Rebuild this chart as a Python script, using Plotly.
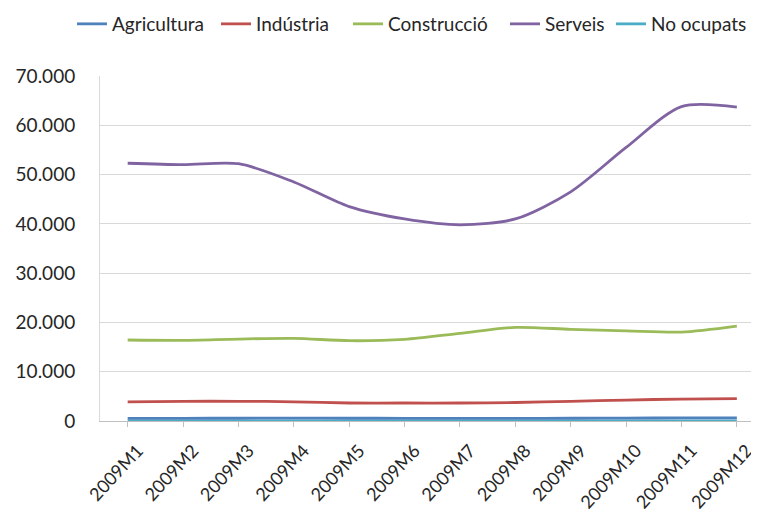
"""
Ocupació per sectors, 2009 (mensual).
"""
import plotly.graph_objects as go

MONTHS = ['2009M1', '2009M2', '2009M3', '2009M4', '2009M5', '2009M6',
          '2009M7', '2009M8', '2009M9', '2009M10', '2009M11', '2009M12']

AGRICULTURA = [550, 550, 560, 570, 560, 550, 550, 540, 560, 600, 620, 650]
INDUSTRIA = [3900, 4000, 4000, 3900, 3650, 3650, 3650, 3750, 4000, 4250, 4450, 4550]
CONSTRUCCIO = [16430, 16360, 16630, 16770, 16290, 16570, 17780, 19000, 18600, 18300, 18050, 19270]
SERVEIS = [52300, 52000, 52200, 48500, 43500, 41000, 39800, 41000, 46500, 55500, 63800, 63700]
NO_OCUPATS = [0, 0, 0, 0, 0, 0, 0, 0, 0, 0, 0, 0]

SERIES = [
    ('Agricultura', AGRICULTURA, '#4F81BD'),
    ('Indústria', INDUSTRIA, '#C0504D'),
    ('Construcció', CONSTRUCCIO, '#9BBB59'),
    ('Serveis', SERVEIS, '#8064A2'),
    ('No ocupats', NO_OCUPATS, '#4BACC6'),
]

FONT = 'Lato'
W, H = 751, 508  # page body has an 8px margin
# one legend box per series so the entries sit where the original has them
LEGEND_X = [64, 208, 340, 497, 603]
LEGEND_IDS = ['legend', 'legend2', 'legend3', 'legend4', 'legend5']

fig = go.Figure()
# No ocupats goes first so it sits under Agricultura, like the original
for i in [4, 0, 1, 2, 3]:
    name, values, color = SERIES[i]
    fig.add_trace(go.Scatter(
        x=MONTHS, y=values, name=name, legend=LEGEND_IDS[i],
        mode='lines', line=dict(color=color, width=2.8, shape='spline', smoothing=0.8),
    ))

legends = {}
for lid, lx in zip(LEGEND_IDS, LEGEND_X):
    legends[lid] = dict(orientation='h', x=lx / W, xref='container', xanchor='left',
                        y=1 - 16 / H, yref='container', yanchor='middle',
                        font=dict(size=19), itemwidth=30)

fig.update_layout(
    width=W, height=H,
    margin=dict(l=92, r=0, t=68, b=95),
    plot_bgcolor='white', paper_bgcolor='white',
    separators=',.',
    font=dict(family=FONT, color='#262626', size=19),
    showlegend=True,
    **legends,
)
fig.update_xaxes(
    type='category', range=[-0.5, 11.4], automargin=False,
    tickangle=-47, tickfont=dict(size=18),
    ticklabelshift=10, ticklabelstandoff=6,
    showgrid=False, showline=True, linecolor='#BFBFBF', linewidth=1,
    ticks='outside', ticklen=5, tickcolor='#BFBFBF',
)
fig.update_yaxes(
    range=[0, 70000], dtick=10000, tickformat=',d', automargin=False,
    tickfont=dict(size=19),
    showgrid=True, gridcolor='#D9D9D9', gridwidth=1,
    showline=True, linecolor='#D9D9D9', zeroline=False,
    ticks='outside', ticklen=20, tickcolor='white',
)

fig.write_html("out.html")
